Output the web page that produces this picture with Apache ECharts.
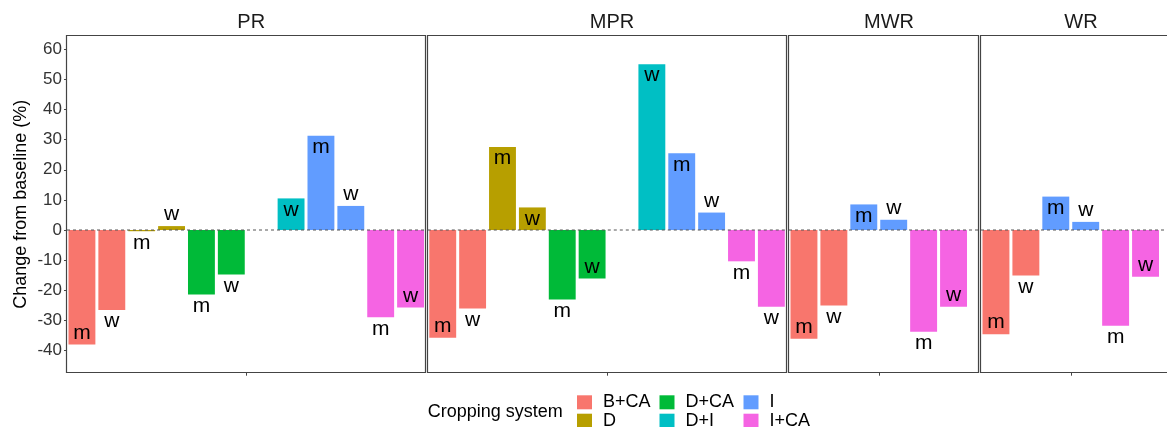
<!DOCTYPE html>
<html>
<head>
<meta charset="utf-8">
<script src="https://cdn.jsdelivr.net/npm/echarts@6/dist/echarts.min.js"></script>
<style>
html,body{margin:0;padding:0;background:#fff;}
#chart{width:1167px;height:427px;}
</style>
</head>
<body>
<div id="chart"></div>
<script>
// ---------- data ----------
const panels = ['PR', 'MPR', 'MWR', 'WR'];
const systemsFull = ['B+CA', 'D', 'D+CA', 'D+I', 'I', 'I+CA'];
const systemsShort = ['B+CA', 'I', 'I+CA'];
const legendSystems = ['B+CA', 'D', 'D+CA', 'D+I', 'I', 'I+CA'];
const yTicks = [-40, -30, -20, -10, 0, 10, 20, 30, 40, 50, 60];

// change from baseline (%), m and w for each cropping system
const prM  = [-38.0, -0.4, -21.4, null, 31.3, -29.0];
const prW  = [-26.6,  1.3, -14.8, 10.5,  8.0, -25.7];
const mprM = [-35.8, 27.6, -23.1, null, 25.5, -10.4];
const mprW = [-26.1,  7.5, -16.1, 55.1,  5.8, -25.5];
const mwrM = [-36.1,  8.5, -33.8];
const mwrW = [-25.1,  3.4, -25.5];
const wrM  = [-34.6, 11.1, -31.8];
const wrW  = [-15.1,  2.7, -15.5];

// ---------- style ----------
const colors = {'B+CA':'#F8766D','D':'#B79F00','D+CA':'#00BA38','D+I':'#00BFC4','I':'#619CFF','I+CA':'#F564E3'};
// label side per bar (in = inside at bar end, out = beyond bar end)
const labelSide = {
  PR:  {m:['in','out','out',null,'in','out'], w:['out','out','out','in','out','in']},
  MPR: {m:['in','in','out',null,'in','out'],  w:['out','in','in','in','out','out']},
  MWR: {m:['in','in','out'], w:['out','out','in']},
  WR:  {m:['in','in','out'], w:['out','out','in']}
};
const FONT = 'Liberation Sans, Arial, sans-serif';
const gridTop = 35.7, gridH = 337;
const gridBox = [
  {left: 67,    width: 358.5, panelW: 358.5},
  {left: 427.8, width: 358.5, panelW: 358.5},
  {left: 789,   width: 179.5, panelW: 190},
  {left: 981,   width: 179.5, panelW: 190}
];
const yMin = -47.4, yMax = 64.55;

const panelData = {
  PR:  {sys: systemsFull,  m: prM,  w: prW},
  MPR: {sys: systemsFull,  m: mprM, w: mprW},
  MWR: {sys: systemsShort, m: mwrM, w: mwrW},
  WR:  {sys: systemsShort, m: wrM,  w: wrW}
};

function labelPos(v, side) {
  if (v >= 0) return side === 'in' ? 'insideTop' : 'top';
  return side === 'in' ? 'insideBottom' : 'bottom';
}

const grids = [], xAxes = [], yAxes = [], series = [];
panels.forEach((p, k) => {
  const g = gridBox[k];
  grids.push({left: g.left, width: g.width, top: gridTop, height: gridH, show: false});
  const d = panelData[p];
  const cats = [], items = [];
  d.sys.forEach((s, i) => {
    ['m', 'w'].forEach(t => {
      const v = d[t][i];
      cats.push(s + ' ' + t);
      const side = labelSide[p][t][i];
      items.push({
        value: v,
        itemStyle: {color: colors[s]},
        label: v == null ? {show: false} : {
          show: true, position: labelPos(v, side), distance: 1,
          formatter: t, fontSize: 21, color: '#000', fontFamily: FONT
        }
      });
    });
  });
  xAxes.push({type: 'category', gridIndex: k, data: cats, show: false});
  xAxes.push({type: 'category', gridIndex: k, data: [''], position: 'bottom',
    axisLine: {show: false}, axisLabel: {show: false},
    axisTick: {show: true, alignWithLabel: true, length: 3, lineStyle: {color: '#444'}}});
  yAxes.push({
    type: 'value', gridIndex: k, min: yMin, max: yMax,
    splitLine: {show: false}, axisLine: {show: false},
    axisTick: k === 0 ? {show: true, length: 3, customValues: yTicks, lineStyle: {color: '#444'}} : {show: false},
    axisLabel: k === 0 ? {show: true, customValues: yTicks, margin: 5, fontSize: 17, color: '#333', fontFamily: FONT} : {show: false},
    name: k === 0 ? 'Change from baseline (%)' : '',
    nameLocation: 'middle', nameGap: 37,
    nameTextStyle: {fontSize: 18, color: '#000', fontFamily: FONT}
  });
  series.push({
    type: 'bar', name: p, xAxisIndex: 2 * k, yAxisIndex: k,
    barWidth: '90%', data: items, silent: true, animation: false
  });
});

// dummy series for the legend
legendSystems.forEach(s => {
  series.push({type: 'line', name: s, data: [], xAxisIndex: 0, yAxisIndex: 0,
    color: colors[s], itemStyle: {color: colors[s]}, showSymbol: false});
});

// legend laid out in columns of two
const legendLeft = [577, 577, 659.5, 659.5, 743.5, 743.5];
const legendTop = [393.3, 411.7, 393.3, 411.7, 393.3, 411.7];
const legends = legendSystems.map((s, i) => ({
  data: [s], orient: 'horizontal', left: legendLeft[i], top: legendTop[i], padding: 0,
  itemWidth: 15, itemHeight: 14, icon: 'rect', selectedMode: false,
  textStyle: {fontSize: 18, color: '#000', fontFamily: FONT, lineHeight: 14, padding: [0, 0, 0, 6]}
}));

const titles = panels.map((p, k) => ({
  text: p, left: gridBox[k].left + gridBox[k].panelW / 2, top: 7, textAlign: 'center',
  textStyle: {fontSize: 20, fontWeight: 'normal', color: '#1a1a1a', fontFamily: FONT}
}));

const chart = echarts.init(document.getElementById('chart'), null, {renderer: 'canvas'});
chart.setOption({
  animation: false,
  title: titles,
  grid: grids, xAxis: xAxes, yAxis: yAxes, series: series, legend: legends
});

// panel borders and zero reference line (positions from the library's scale)
const y0 = chart.convertToPixel({yAxisIndex: 0}, 0);
const graphics = [];
gridBox.forEach(g => {
  graphics.push({type: 'rect', silent: true, z: 10,
    shape: {x: Math.round(g.left) - 0.5, y: Math.round(gridTop) - 0.5, width: Math.round(g.panelW), height: Math.round(gridH)},
    style: {fill: 'none', stroke: '#444', lineWidth: 1.2}});
  graphics.push({type: 'line', silent: true, z: 9,
    shape: {x1: g.left, y1: y0, x2: g.left + g.panelW, y2: y0},
    style: {stroke: '#555', lineWidth: 1, lineDash: [3, 3]}});
});
graphics.push({type: 'text', left: 427.7, top: 403, silent: true,
  style: {text: 'Cropping system', fontSize: 18, fill: '#000', fontFamily: FONT}});
chart.setOption({graphic: graphics});
</script>
</body>
</html>
